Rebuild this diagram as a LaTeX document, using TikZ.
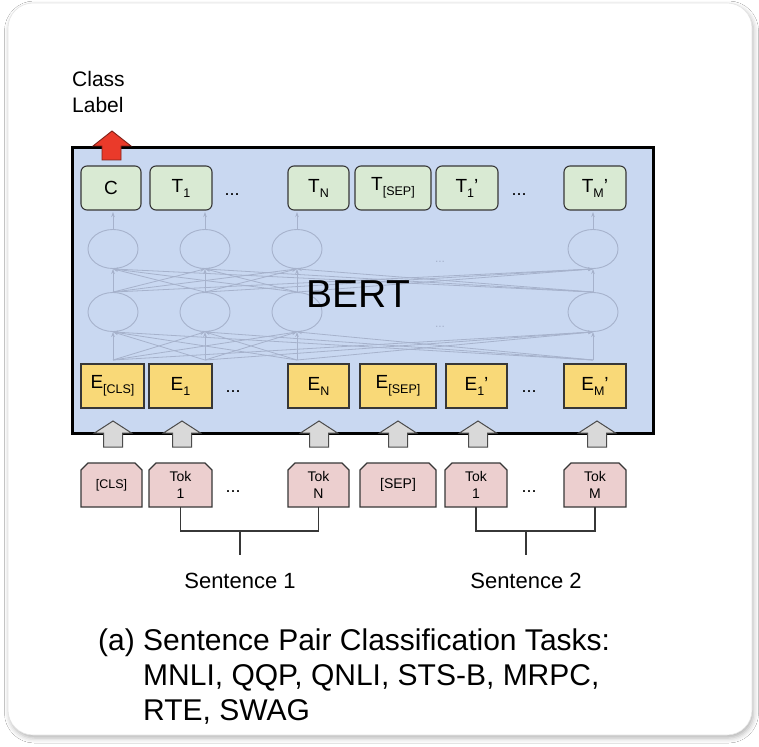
\documentclass[tikz,border=0pt]{standalone}
\usepackage{fontspec}
\setmainfont{Liberation Sans}
\usetikzlibrary{shadows.blur,arrows.meta,shapes.geometric}
\definecolor{bertbg}{RGB}{201,216,241}
\definecolor{tgreen}{RGB}{217,234,211}
\definecolor{eyellow}{RGB}{249,217,120}
\definecolor{tpink}{RGB}{236,207,207}
\definecolor{garr}{RGB}{217,217,217}
\definecolor{redc}{RGB}{234,58,42}
\definecolor{boxline}{RGB}{55,55,55}
\definecolor{netc}{RGB}{166,178,204}
\definecolor{cardline}{RGB}{228,228,228}
\newcommand\setfs[1]{\fontsize{#1}{#1}\selectfont}
\newcommand\sbs[1]{\raisebox{-5pt}{\setfs{12.5}#1}}
\newcommand\tokbox[4]{%
  \draw[tokshape] ({#2-#3},507) -- ({#2-#3},470) -- ({#2-#3+7},463) -- ({#2+#3-7},463) -- ({#2+#3},470) -- ({#2+#3},507) -- cycle;
  \node[tokn] (#1) at (#2,485) {#4};}
\newcommand\uparr[1]{%
  \draw[garrow] ({#1-9.5},447) -- ({#1-9.5},433) -- ({#1-18.5},433) -- (#1,421) -- ({#1+18.5},433) -- ({#1+9.5},433) -- ({#1+9.5},447) -- cycle;}
\tikzset{
  tbox/.style={draw=boxline, fill=tgreen, rounded corners=6pt, minimum height=44pt, inner sep=0pt, line width=1.1pt, font=\setfs{19}},
  ebox/.style={draw=boxline, fill=eyellow, minimum height=44pt, inner sep=0pt, line width=1.1pt, font=\setfs{19}},
  tokshape/.style={draw=boxline, fill=tpink, line width=1.1pt},
  tokn/.style={inner sep=0pt, align=center, font=\fontsize{14}{17}\selectfont},
  garrow/.style={draw=boxline!90, fill=garr, line width=1pt},
  netnode/.style={ellipse, draw=netc, line width=0.9pt, minimum width=50pt, minimum height=39pt, inner sep=0pt},
  netarr/.style={draw=netc, line width=0.8pt, -{Stealth[length=5pt,width=3.5pt]}},
  dots/.style={font=\setfs{18}, anchor=base, inner sep=0pt},
  bracket/.style={draw=boxline, line width=1.1pt},
}
\begin{document}
\begin{tikzpicture}[x=1pt,y=-1pt]
\useasboundingbox (0,0) rectangle (759,746);
\fill[white] (0,0) rectangle (759,746);
% card
\path[fill=white, draw=cardline, line width=0.6pt, rounded corners=25pt,
  blur shadow={shadow xshift=1.5pt, shadow yshift=-3pt, shadow blur radius=5pt, shadow opacity=30}]
  (8,3) rectangle (752,735);
% BERT box
\node[draw=black, line width=3pt, fill=bertbg, minimum width=581pt, minimum height=286pt, inner sep=0pt, anchor=north west] (bert) at (71,146) {};
% faint network
\foreach \i/\cx in {1/113,2/205,3/297,4/593}{
  \node[netnode] (u\i) at (\cx,249) {};
  \node[netnode] (l\i) at (\cx,312) {};
  \coordinate (b\i) at (\cx,360);
  \coordinate (t\i) at (\cx,212);
}
\foreach \i in {1,2,3,4}{
  \draw[netarr] (u\i.north) -- (t\i);
  \foreach \j in {1,2,3,4}{
    \draw[netarr] (l\i.north) -- (u\j.south);
    \draw[netarr] (b\i) -- (l\j.south);
  }
}
\node[text=netc, font=\setfs{12}] (nd1) at (440,262) {...};
\node[text=netc, font=\setfs{12}] (nd2) at (440,327) {...};
\node[font=\setfs{39}, anchor=base, inner sep=0pt] (berttxt) at (358.5,307) {BERT};
% red arrow
\draw[fill=redc, draw=redc!55!black, line width=0.9pt] (102,160) -- (102,146) -- (93,146) -- (112,131) -- (131,146) -- (121,146) -- (121,160) -- cycle;
% class label
\node[font=\setfs{21}, anchor=base west, inner sep=0pt] (cl1) at (72,87) {Class};
\node[font=\setfs{21}, anchor=base west, inner sep=0pt] (cl2) at (72,113) {Label};
% T row
\node[tbox, minimum width=60pt] (C) at (111,188) {C};
\node[tbox, minimum width=62pt] (T1) at (181,188) {T\sbs{1}};
\node[dots] (td1) at (232,195) {...};
\node[tbox, minimum width=61pt] (TN) at (318.5,188) {T\sbs{N}};
\node[tbox, minimum width=76pt] (TSEP) at (393,188) {T\sbs{[SEP]}};
\node[tbox, minimum width=62pt] (T1p) at (467,188) {T\sbs{1}’};
\node[dots] (td2) at (519,195) {...};
\node[tbox, minimum width=62pt] (TMp) at (595,188) {T\sbs{M}’};
% E row
\node[ebox, minimum width=63pt] (ECLS) at (112.5,386) {E\sbs{[CLS]}};
\node[ebox, minimum width=63pt] (E1) at (180.5,386) {E\sbs{1}};
\node[dots] (ed1) at (233,392) {...};
\node[ebox, minimum width=61pt] (EN) at (318.5,386) {E\sbs{N}};
\node[ebox, minimum width=76pt] (ESEP) at (398,386) {E\sbs{[SEP]}};
\node[ebox, minimum width=61pt] (E1p) at (476.5,386) {E\sbs{1}’};
\node[dots] (ed2) at (529,392) {...};
\node[ebox, minimum width=62pt] (EMp) at (595,386) {E\sbs{M}’};
% gray arrows
\uparr{113}\uparr{182}\uparr{319}\uparr{398}\uparr{478}\uparr{597}
% token row
\tokbox{tCLS}{111.5}{30.5}{\setfs{12.5}[CLS]}
\tokbox{tok1}{180.5}{31.5}{Tok\\1}
\node[dots] (kd1) at (233,492) {...};
\tokbox{tokN}{318.5}{30.5}{Tok\\N}
\tokbox{tSEP}{398}{38}{[SEP]}
\tokbox{tok1p}{476}{31}{Tok\\1}
\node[dots] (kd2) at (529,492) {...};
\tokbox{tokM}{595}{31}{Tok\\M}
% brackets
\coordinate (j1) at (240,531);
\coordinate (j2) at (526,531);
\draw[bracket] (tok1.south |- 0,507) -- (tok1.south |- j1) -- (tokN.south |- j1) -- (tokN.south |- 0,507);
\draw[bracket] (j1) -- ++(0,24);
\draw[bracket] (tok1p.south |- 0,507) -- (tok1p.south |- j2) -- (tokM.south |- j2) -- (tokM.south |- 0,507);
\draw[bracket] (j2) -- ++(0,24);
\node[font=\setfs{22}, anchor=base, inner sep=0pt] (s1) at (240,588) {Sentence 1};
\node[font=\setfs{22}, anchor=base, inner sep=0pt] (s2) at (526,588) {Sentence 2};
% caption
\node[font=\setfs{30}, anchor=base west, inner sep=0pt] (cap1) at (98,650) {(a) Sentence Pair Classification Tasks:};
\node[font=\setfs{30}, anchor=base west, inner sep=0pt] (cap2) at (98,685) {\hphantom{(a) }MNLI, QQP, QNLI, STS-B, MRPC,};
\node[font=\setfs{30}, anchor=base west, inner sep=0pt] (cap3) at (98,720) {\hphantom{(a) }RTE, SWAG};
\end{tikzpicture}
\end{document}
